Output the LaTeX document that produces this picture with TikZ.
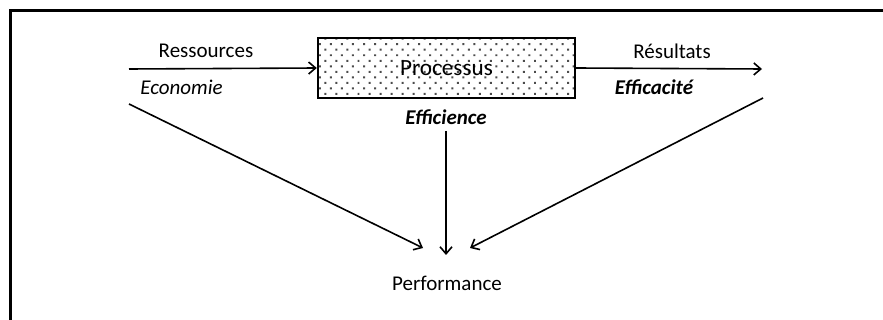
\documentclass[tikz,border=0pt]{standalone}
\usepackage{fontspec}
\setmainfont{Carlito}
\usetikzlibrary{patterns.meta,arrows.meta}

\tikzset{
  lbl/.style={font=\fontsize{10.5}{12.6}\selectfont, inner sep=0pt},
  flow/.style={line width=0.8pt, -{Straight Barb[length=3.5pt,width=6pt,line width=0.8pt]}},
  procbox/.style={rectangle, draw, line width=1.2pt,
    pattern={Dots[distance=3.9pt,angle=45,radius=0.7pt]}, pattern color=black!70,
    minimum width=128.5pt, minimum height=30pt, font=\fontsize{11.6}{14}\selectfont}
}

\begin{document}
\begin{tikzpicture}[x=0.5pt,y=-0.5pt]
\useasboundingbox (0,0) rectangle (883,320);
% cadre
\draw[line width=1.6pt] (10.5,320) -- (10.5,10.5) -- (883,10.5);

\node[procbox] (proc) at (446.5,68) {Processus};

\coordinate (resin) at (129,69);
\coordinate (resout) at (762,69);
\coordinate (ecostart) at (129,104);
\coordinate (effstart) at (763,98);
\coordinate (tipleft) at (423,248);
\coordinate (tipmid) at (446,255);
\coordinate (tipright) at (470,248);

\node[lbl] (ress) at (206,51) {Ressources};
\node[lbl, anchor=west] (eco) at (140,87) {\itshape Economie};
\node[lbl] (resu) at (672,51) {Résultats};
\node[lbl] (effa) at (654,87) {\bfseries\itshape Efficacité};
\node[lbl] (effi) at (446,117) {\bfseries\itshape Efficience};
\node[lbl] (perf) at (447,283) {Performance};

\draw[flow] (resin) -- (proc.west);
\draw[flow] (proc.east) -- (resout);
\draw[flow] (ecostart) -- (tipleft);
\draw[flow] ([yshift=-3pt]effi.south) -- (tipmid);
\draw[flow] (effstart) -- (tipright);
\end{tikzpicture}
\end{document}
